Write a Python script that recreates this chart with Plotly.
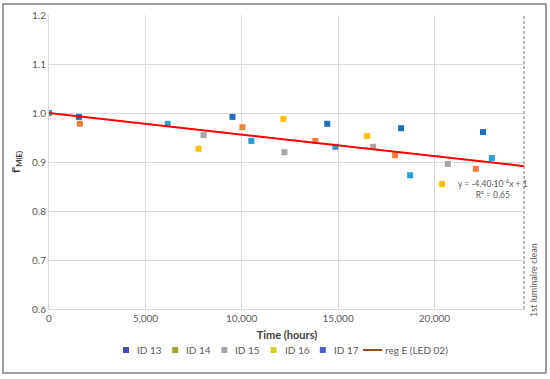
import plotly.graph_objects as go

# ---- data ----
series_names = ["ID 13", "ID 14", "ID 15", "ID 16", "ID 17"]
id13_x = [0, 1550, 9520, 14440, 18270, 22520]
id13_y = [1.0, 0.992, 0.992, 0.978, 0.969, 0.961]
id14_x = [0, 1600, 10040, 13820, 17960, 22150]
id14_y = [1.0, 0.978, 0.971, 0.943, 0.914, 0.886]
id15_x = [0, 8020, 12220, 16820, 20700]
id15_y = [1.0, 0.955, 0.920, 0.931, 0.896]
id16_x = [0, 7760, 12160, 16510, 20390]
id16_y = [1.0, 0.927, 0.988, 0.953, 0.855]
id17_x = [0, 6160, 10500, 14860, 18740, 22980]
id17_y = [1.0, 0.978, 0.943, 0.931, 0.873, 0.908]

reg_name = "reg E (LED 02)"
reg_slope = -4.40e-6
reg_intercept = 1.0
reg_x = [0, 24650]
clean_time = 24650

x_ticks = [0, 5000, 10000, 15000, 20000]
y_ticks = [0.6, 0.7, 0.8, 0.9, 1.0, 1.1, 1.2]

plot_colors = ["#1f6fbf", "#f07f3c", "#a5a5a5", "#ffc000", "#2a9fd6"]
legend_colors = ["#4a4ac4", "#a3a32a", "#a5a5a5", "#d2d21c", "#4a5ed2"]
reg_legend_color = "#9c4a1a"

xs = [id13_x, id14_x, id15_x, id16_x, id17_x]
ys = [id13_y, id14_y, id15_y, id16_y, id17_y]

# ---- layout geometry ----
W, H = 550, 379
ML, MR, MT, MB = 49, 25, 15, 70
PW = W - ML - MR
PH = H - MT - MB


def px_x(p):
    return (p - ML) / PW


def px_y(p):
    return (H - MB - p) / PH


fig = go.Figure()
for name, x, y, c in zip(series_names, xs, ys, plot_colors):
    fig.add_trace(go.Scatter(x=x, y=y, mode="markers", name=name, showlegend=False,
                             marker=dict(symbol="square", size=6, color=c)))

reg_y = [reg_slope * v + reg_intercept for v in reg_x]
fig.add_trace(go.Scatter(x=reg_x, y=reg_y, mode="lines", name=reg_name, showlegend=False,
                         line=dict(color="#ff0000", width=2)))

shapes = [
    dict(type="line", xref="x", yref="paper", x0=clean_time, x1=clean_time, y0=0, y1=1,
         line=dict(color="#8c8c8c", width=1.2, dash="3px,2px")),
    dict(type="rect", xref="paper", yref="paper", x0=px_x(3), x1=px_x(546),
         y0=px_y(373), y1=px_y(4), line=dict(color="#7f7f7f", width=1.5),
         fillcolor="rgba(0,0,0,0)"),
]
annotations = [
    dict(x=23050, y=0.845, xref="x", yref="y", showarrow=False,
         xanchor="center", yanchor="middle",
         text="y = -4.40·10<sup>-6</sup>x + 1<br>R² = 0.65",
         font=dict(size=8.5, color="#595959"), align="center"),
    dict(x=px_x(533), y=px_y(280), xref="paper", yref="paper", showarrow=False,
         xanchor="center", yanchor="middle",
         text="1st luminaire clean", textangle=-90,
         font=dict(size=9, color="#595959")),
]

# ---- manual legend ----
leg_y = 350
for i, (name, c) in enumerate(zip(series_names, legend_colors)):
    cx = 126 + i * 49.2
    shapes.append(dict(type="rect", xref="paper", yref="paper",
                       x0=px_x(cx - 3), x1=px_x(cx + 3), y0=px_y(leg_y + 3), y1=px_y(leg_y - 3),
                       fillcolor=c, line=dict(width=0)))
    annotations.append(dict(x=px_x(cx + 9), y=px_y(leg_y), xref="paper", yref="paper",
                            xanchor="left", yanchor="middle", showarrow=False, text=name,
                            font=dict(size=10, color="#595959")))
shapes.append(dict(type="line", xref="paper", yref="paper", x0=px_x(363), x1=px_x(382),
                   y0=px_y(leg_y), y1=px_y(leg_y), line=dict(color=reg_legend_color, width=2)))
annotations.append(dict(x=px_x(383), y=px_y(leg_y), xref="paper", yref="paper",
                        xanchor="left", yanchor="middle", showarrow=False, text=reg_name,
                        font=dict(size=10, color="#595959")))

font_fam = "Lato, Liberation Sans, sans-serif"
fig.update_layout(
    width=W, height=H,
    margin=dict(l=ML, r=MR, t=MT, b=MB, autoexpand=False),
    showlegend=False,
    paper_bgcolor="white", plot_bgcolor="white",
    font=dict(family=font_fam, size=10, color="#595959"),
    xaxis=dict(range=[0, 24700], tickvals=x_ticks, tickformat=",", showgrid=True,
               gridcolor="#d9d9d9", gridwidth=1, zeroline=False, showline=True,
               linecolor="#d9d9d9", ticks="", tickfont=dict(size=10, color="#595959"),
               automargin=False,
               title=dict(text="<b>Time (hours)</b>", font=dict(size=11, color="#404040"), standoff=8)),
    yaxis=dict(range=[0.6, 1.2], tickvals=y_ticks, tickformat=".1f", showgrid=True,
               gridcolor="#d9d9d9", gridwidth=1, zeroline=False, showline=True,
               linecolor="#d9d9d9", ticks="", tickfont=dict(size=10, color="#595959"),
               automargin=False,
               title=dict(text="<b>f'<sub>M(E)</sub></b>", font=dict(size=11, color="#404040"), standoff=9)),
    shapes=shapes,
    annotations=annotations,
)

fig.write_html("out.html", config={"displayModeBar": False},
               post_script="document.body.style.margin='0px';")
